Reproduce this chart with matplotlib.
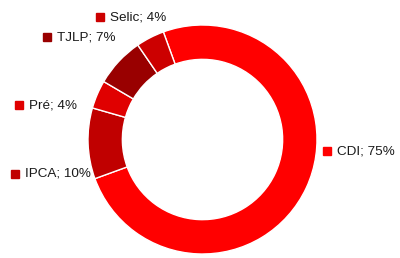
import matplotlib
matplotlib.use("Agg")
import matplotlib.pyplot as plt

plt.rcParams['font.family'] = ['Liberation Sans', 'DejaVu Sans']

# dados
categorias = ['CDI', 'IPCA', 'Pré', 'TJLP', 'Selic']
percentuais = [75, 10, 4, 7, 4]
cores = ['#FF0000', '#C00000', '#E00000', '#990000', '#CC0000']

# posição dos rótulos (pixels da figura, a partir do topo)
rotulo_pos = {
    'CDI': (327, 151),
    'IPCA': (15, 174),
    'Pré': (19, 105),
    'TJLP': (47, 37),
    'Selic': (100, 17),
}

W, H = 400, 258
fig = plt.figure(figsize=(W / 100, H / 100), dpi=100)

cx, cy, r = 202.5, 139.5, 114.5
ax = fig.add_axes([(cx - r) / W, (H - cy - r) / H, 2 * r / W, 2 * r / H])
ax.pie(percentuais, colors=cores, startangle=110, counterclock=False,
       radius=1.0, wedgeprops=dict(width=0.3, edgecolor='white', linewidth=1))
ax.set_xlim(-1, 1)
ax.set_ylim(-1, 1)
ax.set_aspect('equal')
ax.axis('off')

for cat, pct, cor in zip(categorias, percentuais, cores):
    px, py = rotulo_pos[cat]
    fx, fy = px / W, 1 - py / H
    fig.add_artist(plt.Line2D([fx], [fy], marker='s', markersize=5.5,
                              color=cor, markeredgecolor=cor, linestyle='none'))
    fig.text(fx + 10 / W, fy, f'{cat}; {pct}%', fontsize=9.7,
             va='center', ha='left', color='#1a1a1a')

fig.savefig('out.png', dpi=100)
